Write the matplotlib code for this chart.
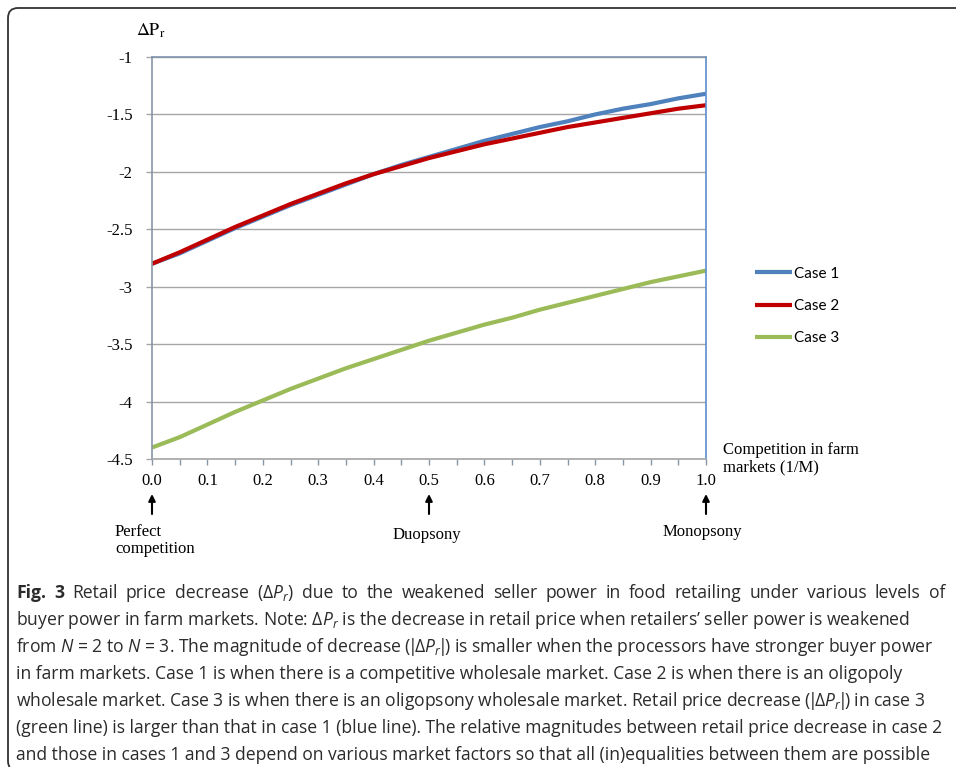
import matplotlib

matplotlib.use("Agg")
import matplotlib.pyplot as plt
from matplotlib.patches import FancyBboxPatch
from matplotlib.transforms import IdentityTransform
from matplotlib.ticker import MultipleLocator

# --- data -----------------------------------------------------------------
comp = [0.0, 0.05, 0.1, 0.15, 0.2, 0.25, 0.3, 0.35, 0.4, 0.45, 0.5,
        0.55, 0.6, 0.65, 0.7, 0.75, 0.8, 0.85, 0.9, 0.95, 1.0]
case1 = [-2.80, -2.71, -2.60, -2.49, -2.39, -2.29, -2.20, -2.11, -2.02, -1.94, -1.87,
         -1.80, -1.73, -1.67, -1.61, -1.56, -1.50, -1.45, -1.41, -1.36, -1.32]
case2 = [-2.80, -2.70, -2.59, -2.48, -2.38, -2.28, -2.19, -2.10, -2.02, -1.95, -1.88,
         -1.82, -1.76, -1.71, -1.66, -1.61, -1.57, -1.53, -1.49, -1.45, -1.42]
case3 = [-4.40, -4.31, -4.20, -4.09, -3.99, -3.89, -3.80, -3.71, -3.63, -3.55, -3.47,
         -3.40, -3.33, -3.27, -3.20, -3.14, -3.08, -3.02, -2.96, -2.91, -2.86]
series_labels = ["Case 1", "Case 2", "Case 3"]
yticks = [-1, -1.5, -2, -2.5, -3, -3.5, -4, -4.5]
ytick_labels = ["-1", "-1.5", "-2", "-2.5", "-3", "-3.5", "-4", "-4.5"]
markers = [(0.0, "Perfect\ncompetition"), (0.5, "Duopsony"), (1.0, "Monopsony")]

DP = r"$\Delta{P}_r$"
ADP = r"($\!|\!\Delta{P}_r\!|\!$)"
caption_first = ("Fig. 3", r"Retail price decrease (" + DP + ") due to the weakened seller power "
                 "in food retailing under various levels of")
caption = [
    r"buyer power in farm markets. Note: " + DP + r" is the decrease in retail price when retailers’ seller power is weakened",
    r"from $N$ = 2 to $N$ = 3. The magnitude of decrease " + ADP + " is smaller when the processors have stronger buyer power",
    r"in farm markets. Case 1 is when there is a competitive wholesale market. Case 2 is when there is an oligopoly",
    r"wholesale market. Case 3 is when there is an oligopsony wholesale market. Retail price decrease " + ADP + " in case 3",
    r"(green line) is larger than that in case 1 (blue line). The relative magnitudes between retail price decrease in case 2",
    r"and those in cases 1 and 3 depend on various market factors so that all (in)equalities between them are possible",
]

colors = ["#4F81BD", "#C00000", "#9BBB59"]
SERIF = "Liberation Serif"
CAP_FONT = "Open Sans"
CAP_SIZE = 12.65
CAP_COLOR = "#2B2B2B"

plt.rcParams["mathtext.fontset"] = "custom"
plt.rcParams["mathtext.rm"] = "Open Sans"
plt.rcParams["mathtext.it"] = "Open Sans:italic"
plt.rcParams["mathtext.bf"] = "Open Sans:bold"

W, H = 956, 767
fig = plt.figure(figsize=(W / 100, H / 100), dpi=100)
ax = fig.add_axes([152 / W, 1 - 459 / H, (706 - 152) / W, (459 - 57) / H])

for ys, c, lab in zip([case1, case2, case3], colors, series_labels):
    ax.plot(comp, ys, color=c, lw=3, label=lab, solid_capstyle="butt")

ax.set_xlim(0, 1)
ax.set_ylim(-4.5, -1)
ax.set_yticks(yticks)
ax.set_yticklabels(ytick_labels)
ax.xaxis.set_major_locator(MultipleLocator(0.1))
ax.xaxis.set_minor_locator(MultipleLocator(0.05))
ax.xaxis.set_major_formatter(lambda v, p: f"{v:.1f}")
ax.grid(axis="y", color="#A6A6A6", lw=1.0)
ax.set_axisbelow(True)

for lab in ax.get_xticklabels() + ax.get_yticklabels():
    lab.set_fontfamily(SERIF)
    lab.set_fontsize(12)
ax.tick_params(axis="x", which="both", direction="out", length=4, width=1,
               color="#8896A8", pad=6)
ax.tick_params(axis="y", direction="out", length=4, width=1, color="#A6A6A6", pad=10)

ax.spines["left"].set_color("#8896A8")
ax.spines["bottom"].set_color("#A6A6A6")
ax.spines["top"].set_color("#7F93AE")
ax.spines["right"].set_color("#5B8FD0")
for s in ax.spines.values():
    s.set_linewidth(1.2)

# axis titles
fig.text(136 / W, 1 - 31 / H, r"$\Delta\mathrm{P}_\mathrm{r}$", fontsize=13,
         math_fontfamily="stix", va="center", ha="left")
fig.text(723 / W, 1 - 459 / H, "Competition in farm\nmarkets (1/M)", family=SERIF,
         fontsize=12, va="center", ha="left", linespacing=1.1)

# arrows marking market structure
trans = ax.get_xaxis_transform()
for xv, txt in markers:
    ax.annotate("", xy=(xv, -35 / 402), xytext=(xv, -55 / 402), xycoords=trans,
                textcoords=trans, annotation_clip=False,
                arrowprops=dict(arrowstyle="-|>", color="black", lw=1.5,
                                mutation_scale=10, shrinkA=0, shrinkB=0))
fig.text(115 / W, 1 - 524 / H, markers[0][1], family=SERIF, fontsize=12,
         va="top", ha="left", linespacing=1.05)
fig.text(427 / W, 1 - 535 / H, markers[1][1], family=SERIF, fontsize=12,
         va="center", ha="center")
fig.text(702 / W, 1 - 532 / H, markers[2][1], family=SERIF, fontsize=12,
         va="center", ha="center")

fig.legend(loc="center left", bbox_to_anchor=(755 / W, 1 - 306 / H), frameon=False,
           prop={"family": "Lato", "size": 11}, handlelength=2.4, handletextpad=0.15,
           labelspacing=1.2, borderpad=0, borderaxespad=0)

# caption: first line is justified to the full width, the rest are ragged
renderer = fig.canvas.get_renderer()
x0, x1 = 16, 945
baselines = [598, 625, 652, 679, 706, 733, 760]

words = [("Fig.", "bold"), ("3", "bold")] + [(w, "normal") for w in caption_first[1].split(" ")]
pieces = []
for w, wt in words:
    t = fig.text(0, 1 - baselines[0] / H, w, family=CAP_FONT, fontsize=CAP_SIZE,
                 fontweight=wt, color=CAP_COLOR, va="baseline", ha="left")
    pieces.append((t, t.get_window_extent(renderer).width))
gap = (x1 - x0 - sum(wd for _, wd in pieces)) / (len(pieces) - 1)
x = x0
for t, wd in pieces:
    t.set_x(x / W)
    x += wd + gap

for txt, yb in zip(caption, baselines[1:]):
    fig.text(x0 / W, 1 - yb / H, txt, family=CAP_FONT, fontsize=CAP_SIZE,
             color=CAP_COLOR, va="baseline", ha="left")

# rounded outer frame (bottom edge sits just below the visible area)
frame = FancyBboxPatch((8, -4), 1000, 763, boxstyle="round,pad=0,rounding_size=10",
                       transform=IdentityTransform(), fill=False, ec="#333333", lw=1.3)
fig.patches.append(frame)

fig.savefig("out.png", dpi=100)
